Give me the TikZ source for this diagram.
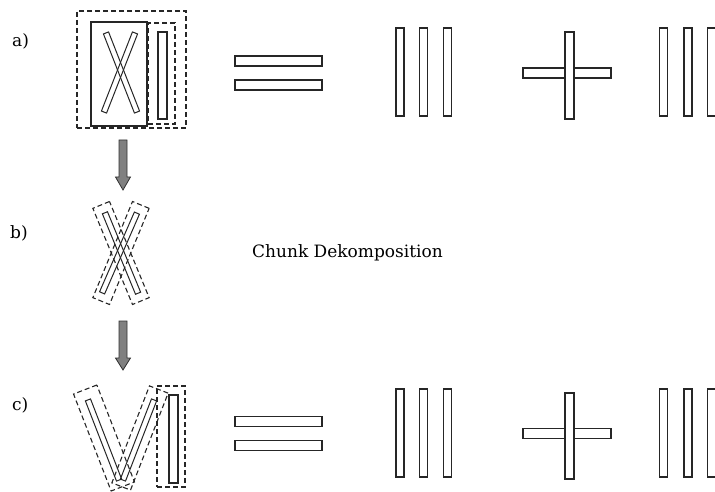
\documentclass[tikz,border=0pt]{standalone}
\usepackage{fontspec}
\setmainfont{DejaVu Serif}
\begin{document}
\begin{tikzpicture}[x=1pt,y=-1pt,
  bar/.style={rectangle, draw=black!85, line width=1.2pt, fill=white, inner sep=0pt, outer sep=0pt},
  xbar/.style={rectangle, draw=black!85, line width=1pt, inner sep=0pt, outer sep=0pt, minimum width=5.5pt},
  dbox/.style={rectangle, draw=black!85, line width=1.1pt, dash pattern=on 5pt off 3pt, inner sep=0pt, outer sep=0pt},
  sbox/.style={rectangle, draw=black!85, line width=1.2pt, inner sep=0pt, outer sep=0pt},
  lab/.style={anchor=base west, font=\fontsize{17}{20}\selectfont, inner sep=0pt},
  fatarrow/.style={draw=black!80, fill=black!50, line width=0.8pt}]
\useasboundingbox (0,0) rectangle (715,492);

% labels
\node[lab] (la) at (12,47) {a)};
\node[lab] (lb) at (10,238) {b)};
\node[lab] (lc) at (12,410) {c)};
\node[lab] (chunk) at (252,257) {Chunk Dekomposition};

% group a
\node[dbox, minimum width=109pt, minimum height=117pt] (aout) at (131.5,69.5) {};
\node[sbox, minimum width=56pt, minimum height=104pt] (asol) at (119,74) {};
\node[dbox, minimum width=27pt, minimum height=101pt] (ain) at (161.5,73.5) {};
\node[bar, minimum width=9pt, minimum height=87pt] (abar) at (162.5,75.5) {};
\node[xbar, minimum height=85pt, rotate=21.4] (ax1) at (121.5,72.5) {};
\node[xbar, minimum height=85pt, rotate=-21.4] (ax2) at (119.5,72.5) {};

% arrow a -> b
\coordinate (ar1) at (123,140);
\draw[fatarrow, shift={(ar1)}] (-4,0) -- (4,0) -- (4,37) -- (7.5,37) -- (0,50) -- (-7.5,37) -- (-4,37) -- cycle;

% group b
\node[dbox, minimum width=18pt, minimum height=104pt, rotate=22.4] (bbox1) at (121,253) {};
\node[dbox, minimum width=18pt, minimum height=104pt, rotate=-22.4] (bbox2) at (121,253) {};
\node[xbar, minimum height=87pt, rotate=22.4] (bx1) at (121.5,253) {};
\node[xbar, minimum height=87pt, rotate=-23.6] (bx2) at (119.5,253) {};

% arrow b -> c
\coordinate (ar2) at (123,321);
\draw[fatarrow, shift={(ar2)}] (-4,0) -- (4,0) -- (4,37) -- (7.5,37) -- (0,49) -- (-7.5,37) -- (-4,37) -- cycle;

% group c
\node[dbox, minimum width=25pt, minimum height=104pt, rotate=21.2] (cbox1) at (104,438) {};
\node[dbox, minimum width=20pt, minimum height=104pt, rotate=-21.2] (cbox2) at (140,438) {};
\node[xbar, minimum height=86pt, rotate=21.2] (cx1) at (103.5,440) {};
\node[xbar, minimum height=86pt, rotate=-21.2] (cx2) at (138.5,440) {};
\node[dbox, minimum width=28pt, minimum height=101pt] (cin) at (171,436.5) {};
\node[bar, minimum width=9pt, minimum height=88pt] (cbar) at (173.5,439) {};

% row a right side
\node[bar, minimum width=87pt, minimum height=10pt] (eqa1) at (278.5,61) {};
\node[bar, minimum width=87pt, minimum height=10pt] (eqa2) at (278.5,85) {};
\node[bar, minimum width=8pt, minimum height=88pt] (va1) at (400,72) {};
\node[bar, minimum width=8pt, minimum height=88pt] (va2) at (423.5,72) {};
\node[bar, minimum width=8pt, minimum height=88pt] (va3) at (447.5,72) {};
\node[bar, minimum width=88pt, minimum height=10pt] (pha) at (567,73) {};
\node[bar, minimum width=9pt, minimum height=87pt] (pva) at (569.5,75.5) {};
\node[bar, minimum width=8pt, minimum height=88pt] (ra1) at (663.5,72) {};
\node[bar, minimum width=8pt, minimum height=88pt] (ra2) at (688,72) {};
\node[bar, minimum width=8pt, minimum height=88pt] (ra3) at (711.5,72) {};

% row c right side
\node[bar, minimum width=87pt, minimum height=9.5pt] (eqc1) at (278.5,421.5) {};
\node[bar, minimum width=87pt, minimum height=9.5pt] (eqc2) at (278.5,445.5) {};
\node[bar, minimum width=8pt, minimum height=88pt] (vc1) at (400,433) {};
\node[bar, minimum width=8pt, minimum height=88pt] (vc2) at (423.5,433) {};
\node[bar, minimum width=8pt, minimum height=88pt] (vc3) at (447.5,433) {};
\node[bar, minimum width=88pt, minimum height=9.5pt] (phc) at (567,433.5) {};
\node[bar, minimum width=9pt, minimum height=86pt] (pvc) at (569.5,436) {};
\node[bar, minimum width=8pt, minimum height=88pt] (rc1) at (663.5,433) {};
\node[bar, minimum width=8pt, minimum height=88pt] (rc2) at (688,433) {};
\node[bar, minimum width=8pt, minimum height=88pt] (rc3) at (711.5,433) {};
\end{tikzpicture}
\end{document}
